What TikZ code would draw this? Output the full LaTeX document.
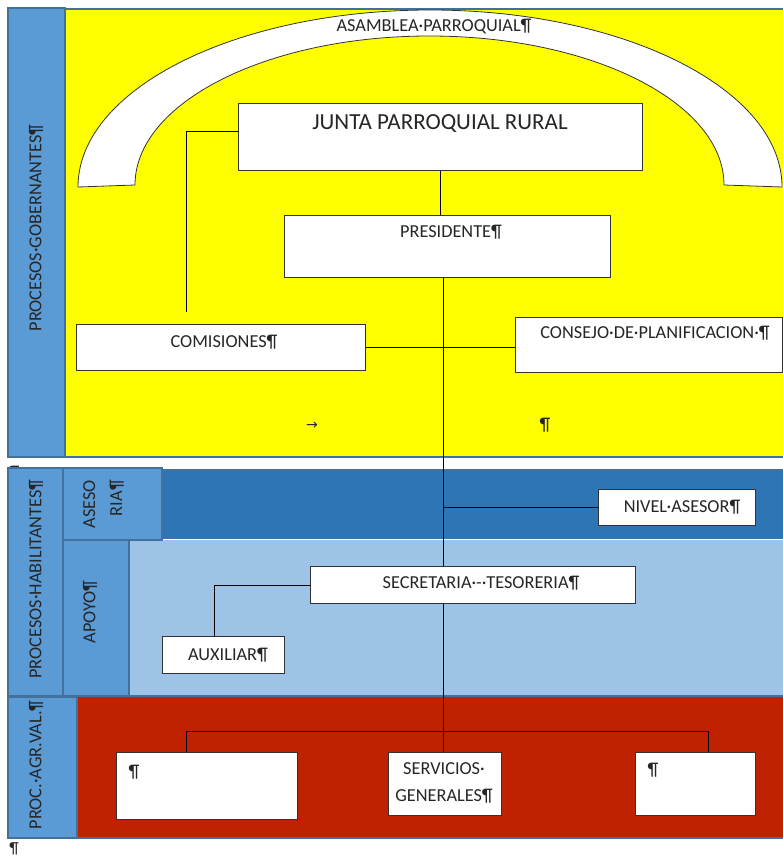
\documentclass[tikz,border=0pt]{standalone}
\usepackage{fontspec}
\setmainfont{Carlito}
\newfontfamily\dejavu{DejaVu Sans}
\definecolor{colblue}{RGB}{91,155,213}
\definecolor{bordblue}{RGB}{65,113,156}
\definecolor{darkband}{RGB}{46,117,182}
\definecolor{lightband}{RGB}{157,195,230}
\definecolor{redband}{RGB}{190,34,0}
\definecolor{yel}{RGB}{255,255,0}
\begin{document}
\begin{tikzpicture}[x=1pt,y=-1pt,
  box/.style={draw=black!80, fill=white, line width=0.9pt, anchor=north west, inner sep=0pt},
  lbl/.style={inner sep=0pt, font=\fontsize{18.3}{27}\selectfont, text=black!85},
  conn/.style={draw=black, line width=0.9pt},
  band/.style={draw=bordblue, line width=1.6pt}]
\useasboundingbox (0,0) rectangle (783,860);
% governing area
\fill[yel] (65,9) rectangle (783,457);
\draw[bordblue, line width=1.6pt] (65,9) -- (783,9) (65,457) -- (783,457);
\draw[band, fill=colblue] (8,8) rectangle (65,457);
\node[lbl, rotate=90] (gob) at (36,228) {PROCESOS·GOBERNANTES¶};
% arch
\draw[fill=white, draw=black!80, line width=0.8pt]
  (78,187) arc[start angle=180, end angle=0, x radius=352pt, y radius=177pt]
  -- (724,185) arc[start angle=0, end angle=180, x radius=294.5pt, y radius=149pt]
  -- cycle;
\node[lbl] (asamblea) at (434,27) {ASAMBLEA·PARROQUIAL¶};
% stray mark under yellow
\node[lbl] (mark1) at (14,473) {¶};
% habilitantes
\fill[darkband] (162,470) rectangle (783,538);
\draw[bordblue, line width=1.6pt] (162,470) -- (783,470) (162,538) -- (783,538);
\fill[lightband] (129,540) rectangle (783,696);
\draw[bordblue, line width=1.6pt] (129,696) -- (783,696);
\draw[band, fill=colblue] (8,468) rectangle (63,696);
\draw[band, fill=colblue] (63,468) rectangle (162,540);
\draw[band, fill=colblue] (63,540) rectangle (129,696);
\node[lbl, rotate=90] (hab) at (36,579) {PROCESOS·HABILITANTES¶};
\node[lbl, rotate=90, align=right, anchor=east] (aseso) at (103.5,480) {ASESO\\RIA¶};
\node[lbl, rotate=90] (apoyo) at (90,612) {APOYO¶};
% value-adding
\fill[redband] (77,697) rectangle (783,838);
\draw[bordblue, line width=1.6pt] (77,838) -- (783,838);
\draw[band, fill=colblue] (8,697) rectangle (77,838);
\node[lbl, rotate=90] (agr) at (36,765) {PROC.·AGR.VAL.¶};
\node[lbl, font=\fontsize{16}{18}\selectfont] (mark2) at (14,849) {¶};
% boxes
\node[box, minimum width=404pt, minimum height=67pt] (junta) at (238,103) {};
\node[inner sep=0pt, font=\fontsize{23}{27}\selectfont, text=black!85] (juntaT) at (440,124) {JUNTA PARROQUIAL RURAL};
\node[box, minimum width=326pt, minimum height=62pt] (presidente) at (284,215) {};
\node[lbl] (presT) at (451,232) {PRESIDENTE¶};
\node[box, minimum width=289pt, minimum height=46pt] (comisiones) at (76,324) {};
\node[lbl] (comT) at (224,342) {COMISIONES¶};
\node[box, minimum width=267pt, minimum height=55pt] (consejo) at (515,317) {};
\node[lbl] (conT) at (655,333) {CONSEJO·DE·PLANIFICACION·¶};
\node[lbl] (tabmark) at (312,426) {\dejavu\fontsize{14}{16}\selectfont →};
\node[lbl] (mark3) at (545,425) {¶};
\node[box, minimum width=157pt, minimum height=36pt] (nivel) at (598,489) {};
\node[lbl] (nivT) at (682,507) {NIVEL·ASESOR¶};
\node[box, minimum width=325pt, minimum height=37pt] (secretaria) at (310,566) {};
\node[lbl] (secT) at (481,583) {SECRETARIA·-·TESORERIA¶};
\node[box, minimum width=122pt, minimum height=37pt] (auxiliar) at (162,636) {};
\node[lbl] (auxT) at (228,655) {AUXILIAR¶};
\node[box, minimum width=181pt, minimum height=67pt] (boxL) at (116,752) {};
\node[lbl] (boxLT) at (134,772) {¶};
\node[box, minimum width=113pt, minimum height=63pt] (servicios) at (388,752) {};
\node[lbl, align=center] (servT) at (444,783) {SERVICIOS·\\GENERALES¶};
\node[box, minimum width=120pt, minimum height=63pt] (boxR) at (635,752) {};
\node[lbl] (boxRT) at (653,770) {¶};
% connectors
\coordinate (spine) at (443,731);
\coordinate (busL) at (186,731);
\coordinate (busR) at (708,731);
\coordinate (comtop) at (186,312);
\draw[conn] (junta.south) -- (junta.south |- presidente.north);
\draw[conn] (presidente.south -| spine) -- (secretaria.north -| spine);
\draw[conn] (secretaria.south -| spine) -- (spine);
\draw[conn] (nivel.west) -- (nivel.west -| spine);
\draw[conn] (comisiones.east) -- (comisiones.east -| consejo.west);
\draw[conn] ([yshift=5.5pt]junta.west) -| (comtop);
\draw[conn] (secretaria.west) -| ([xshift=-9pt]auxiliar.north);
\draw[conn] (busL |- boxL.north) -- (busL) -- (busR) -- (busR |- boxR.north);
\draw[conn] (spine) -- (spine |- servicios.north);
\end{tikzpicture}
\end{document}
